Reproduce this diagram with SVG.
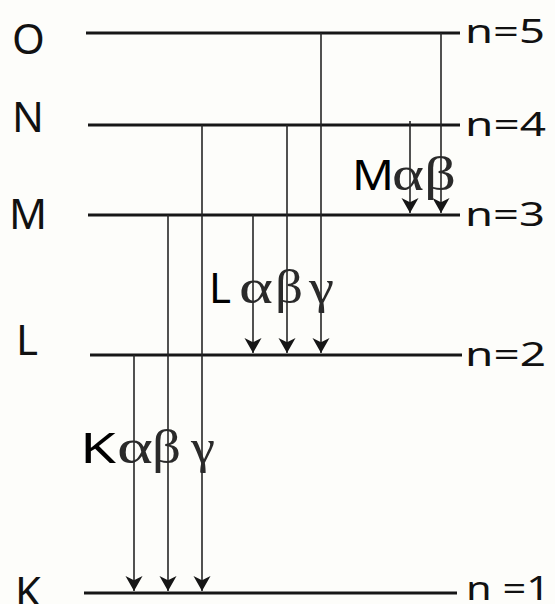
<svg xmlns="http://www.w3.org/2000/svg" width="555" height="604" viewBox="0 0 555 604">
<style>
.lvl{stroke:#161616;stroke-width:3.2;fill:none}
.tr{stroke:#262626;stroke-width:1.6;fill:none;marker-end:url(#ah)}
.lab{font-family:"Noto Sans","Open Sans",sans-serif;font-size:42px;fill:#111}
.nl{font-family:"Noto Sans","Open Sans",sans-serif;font-size:33px;fill:#111}
.tl{font-family:"Noto Sans","Open Sans",sans-serif;font-size:42px;fill:#000}
.gk{font-family:"Liberation Serif","DejaVu Serif",serif;font-size:48px;fill:#2a2a2a}
</style>
<defs>
<marker id="ah" markerUnits="userSpaceOnUse" markerWidth="16" markerHeight="18" viewBox="0 -8 15 16" refX="14" refY="0" orient="auto">
<path d="M0,-8 L14,0 L0,8 L4,0 Z" fill="#161616"/>
</marker>
</defs>
<rect width="555" height="604" fill="#fdfdfa"/>
<g id="level-O">
<line class="lvl" x1="86" y1="33" x2="460" y2="33"/>
<text class="lab" x="12" y="54">O</text>
<text class="nl" x="465" y="43" textLength="80" lengthAdjust="spacingAndGlyphs">n=5</text>
</g>
<g id="level-N">
<line class="lvl" x1="88" y1="125" x2="460" y2="125"/>
<text class="lab" x="12" y="132">N</text>
<text class="nl" x="465" y="136" textLength="81" lengthAdjust="spacingAndGlyphs">n=4</text>
</g>
<g id="level-M">
<line class="lvl" x1="88" y1="215" x2="460" y2="215"/>
<text class="lab" x="9" y="229">M</text>
<text class="nl" x="465" y="226" textLength="80" lengthAdjust="spacingAndGlyphs">n=3</text>
</g>
<g id="level-L">
<line class="lvl" x1="90" y1="355" x2="462" y2="355"/>
<text class="lab" x="16" y="355">L</text>
<text class="nl" x="465" y="366" textLength="81" lengthAdjust="spacingAndGlyphs">n=2</text>
</g>
<g id="level-K">
<line class="lvl" x1="84" y1="593" x2="457" y2="593"/>
<text class="lab" x="15" y="607">K</text>
<text class="nl" x="466" y="600" textLength="84" lengthAdjust="spacingAndGlyphs">n =1</text>
</g>
<g id="transitions">
<line class="tr" x1="410" y1="121" x2="410" y2="213"/>
<line class="tr" x1="441" y1="33" x2="441" y2="213"/>
<line class="tr" x1="253" y1="215" x2="253" y2="353"/>
<line class="tr" x1="287" y1="125" x2="287" y2="353"/>
<line class="tr" x1="321" y1="33" x2="321" y2="353"/>
<line class="tr" x1="134" y1="355" x2="134" y2="591"/>
<line class="tr" x1="168" y1="215" x2="168" y2="591"/>
<line class="tr" x1="202" y1="125" x2="202" y2="591"/>
</g>
<g id="label-M">
<text class="tl" x="352" y="190" textLength="42" lengthAdjust="spacingAndGlyphs">M</text>
<text class="gk" x="392" y="190" textLength="32" lengthAdjust="spacingAndGlyphs">α</text>
<text class="gk" x="424" y="190" textLength="32" lengthAdjust="spacingAndGlyphs">β</text>
</g>
<g id="label-L">
<text class="tl" x="209" y="303" font-size="44">L</text>
<text class="gk" x="239" y="303" textLength="34" lengthAdjust="spacingAndGlyphs">α</text>
<text class="gk" x="275" y="303" textLength="28" lengthAdjust="spacingAndGlyphs">β</text>
<text class="gk" x="309" y="303" textLength="25" lengthAdjust="spacingAndGlyphs">γ</text>
</g>
<g id="label-K">
<text class="tl" x="80" y="463" font-size="44" textLength="36" lengthAdjust="spacingAndGlyphs">K</text>
<text class="gk" x="117" y="463" textLength="36" lengthAdjust="spacingAndGlyphs">α</text>
<text class="gk" x="152" y="463" textLength="29" lengthAdjust="spacingAndGlyphs">β</text>
<text class="gk" x="191" y="463" textLength="24" lengthAdjust="spacingAndGlyphs">γ</text>
</g>
</svg>
